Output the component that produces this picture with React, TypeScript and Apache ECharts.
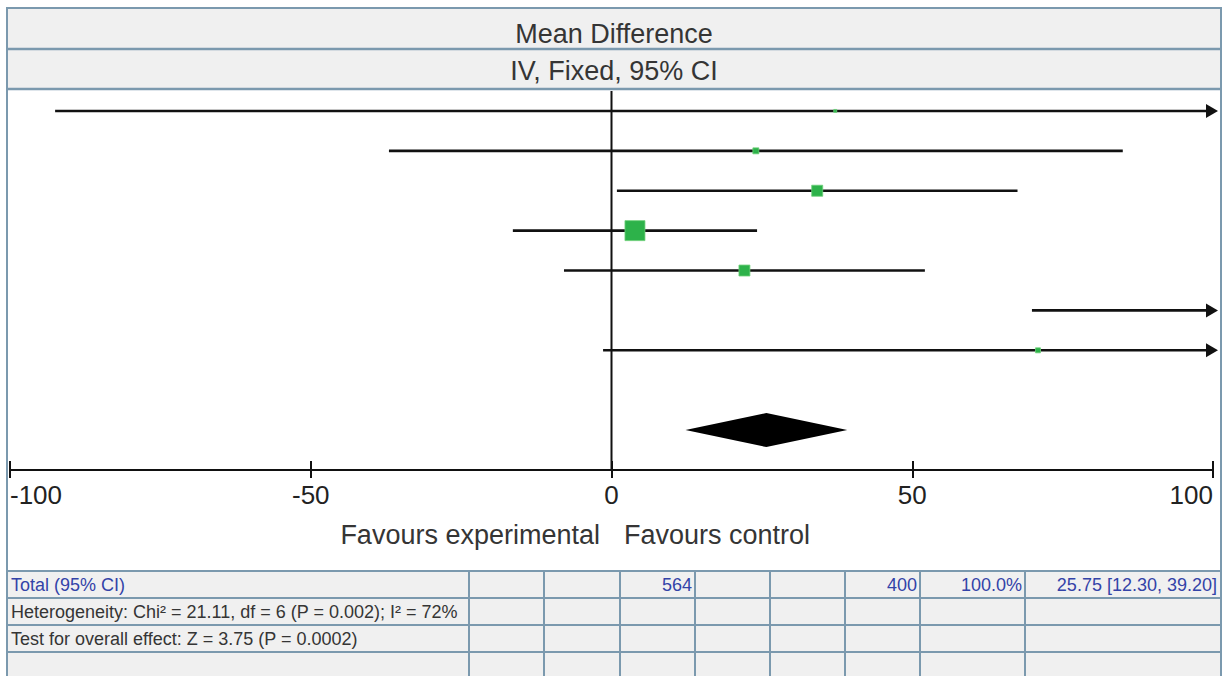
import React, { useEffect, useRef } from "react";
import * as echarts from "echarts";

// ---- data ----
const studyRows = [1, 2, 3, 4, 5, 6, 7];
const meanDiff = [37.2, 24.0, 34.2, 3.9, 22.1, 140.0, 70.9];
const ciLower = [-92.5, -37.0, 0.9, -16.4, -7.9, 69.9, -1.4];
const ciUpper = [166.9, 85.0, 67.5, 24.2, 52.1, 210.1, 143.2];
const weights = [1.2, 5.0, 16.9, 55.6, 16.7, 1.1, 3.5];

const totalRow = 9;
const totalMean = 25.75;
const totalLower = 12.3;
const totalUpper = 39.2;
const totalExperimental = 564;
const totalControl = 400;
const totalWeight = 100.0;

const chi2 = 21.11;
const dfValue = 6;
const hetP = "0.002";
const i2 = 72;
const zValue = 3.75;
const overallP = "0.0002";

const xTicks = [-100, -50, 0, 50, 100];
const headerTitle = "Mean Difference";
const headerSub = "IV, Fixed, 95% CI";
const favoursLeft = "Favours experimental";
const favoursRight = "Favours control";

const X_MIN = xTicks[0];
const X_MAX = xTicks[xTicks.length - 1];
const FONT = "'Liberation Sans', Arial, sans-serif";
const GRID = "#7b99ae";
const BG = "#f0f0f0";
const BLUE = "#3343a8";
const DARK = "#353535";

export default function App() {
  const ref = useRef<HTMLDivElement>(null);

  useEffect(() => {
    if (!ref.current) return;
    const chart = echarts.init(ref.current, undefined, { renderer: "svg" });

    const ciData = studyRows.map((r, i) => [r, ciLower[i], ciUpper[i]]);
    const markerData = studyRows.map((r, i) => [r, meanDiff[i], weights[i]]);
    const maxW = Math.max(...weights);

    const colLines = [469, 544, 620, 695, 770, 845, 920, 1025];
    const rowLines = [571, 598, 625, 652];

    const bigText = (text: string, x: number, y: number, align: string) => ({
      type: "text", z: 70,
      style: { text, x, y, fill: DARK, font: `27px ${FONT}`, align, verticalAlign: "middle", textAlign: align, textVerticalAlign: "middle" },
    });

    const graphic: any[] = [
      { type: "rect", z: -5, shape: { x: 7, y: 8, width: 1214, height: 81 }, style: { fill: BG } },
      { type: "rect", z: -5, shape: { x: 7, y: 571, width: 1214, height: 110 }, style: { fill: BG } },
      { type: "line", z: 50, shape: { x1: 7, y1: 49, x2: 1221, y2: 49 }, style: { stroke: GRID, lineWidth: 2.5 } },
      { type: "line", z: 50, shape: { x1: 7, y1: 89, x2: 1221, y2: 89 }, style: { stroke: GRID, lineWidth: 2.5 } },
      { type: "rect", z: 60, shape: { x: 7, y: 8, width: 1214, height: 700 }, style: { fill: "none", stroke: GRID, lineWidth: 2 } },
      ...rowLines.map((y) => ({ type: "line", z: 50, shape: { x1: 7, y1: y, x2: 1221, y2: y }, style: { stroke: GRID, lineWidth: 2 } })),
      ...colLines.map((x) => ({ type: "line", z: 50, shape: { x1: x, y1: 571, x2: x, y2: 676 }, style: { stroke: GRID, lineWidth: 2 } })),
      bigText(headerTitle, 614, 34, "center"),
      bigText(headerSub, 614, 71, "center"),
      bigText(favoursLeft, 600, 535, "right"),
      bigText(favoursRight, 624, 535, "left"),
    ];

    const cell = (text: string, x: number, y: number, align: string, color: string) => ({
      type: "text", z: 70,
      style: { text, x, y, fill: color, font: `18px ${FONT}`, align, verticalAlign: "middle", textAlign: align, textVerticalAlign: "middle" },
    });
    graphic.push(
      cell("Total (95% CI)", 11, 585, "left", BLUE),
      cell(String(totalExperimental), 692, 585, "right", BLUE),
      cell(String(totalControl), 917, 585, "right", BLUE),
      cell(`${totalWeight.toFixed(1)}%`, 1022, 585, "right", BLUE),
      cell(`${totalMean.toFixed(2)} [${totalLower.toFixed(2)}, ${totalUpper.toFixed(2)}]`, 1217, 585, "right", BLUE),
      cell(`Heterogeneity: Chi² = ${chi2.toFixed(2)}, df = ${dfValue} (P = ${hetP}); I² = ${i2}%`, 11, 612, "left", DARK),
      cell(`Test for overall effect: Z = ${zValue.toFixed(2)} (P = ${overallP})`, 11, 639, "left", DARK)
    );

    const option: any = {
      animation: false,
      backgroundColor: "#ffffff",
      grid: { left: 10, right: 17, top: 91, bottom: 206, containLabel: false },
      xAxis: [
        {
          type: "value", min: X_MIN, max: X_MAX, interval: 50, position: "bottom",
          axisLine: { show: true, lineStyle: { color: "#111", width: 2 } },
          axisTick: { show: true, inside: true, length: 9, lineStyle: { color: "#111", width: 2 } },
          axisLabel: {
            show: true, fontSize: 26, fontFamily: FONT, color: "#222", margin: 12,
            alignMinLabel: "left", alignMaxLabel: "right",
          },
          splitLine: { show: false },
        },
        {
          type: "value", min: X_MIN, max: X_MAX, interval: 50, position: "bottom",
          axisLine: { show: false },
          axisTick: { show: true, inside: false, length: 8, lineStyle: { color: "#111", width: 2 } },
          axisLabel: { show: false },
          splitLine: { show: false },
        },
      ],
      yAxis: { type: "value", min: 0.5, max: 10, inverse: true, show: false },
      graphic,
      series: [
        {
          type: "line", xAxisIndex: 0, silent: true, symbol: "none",
          data: [[0, 0.5], [0, 10]],
          lineStyle: { color: "#111", width: 2 },
          z: 3,
        },
        {
          type: "custom", xAxisIndex: 0, clip: false, silent: true, z: 4,
          encode: { x: [1, 2], y: 0 },
          data: ciData,
          renderItem: (params: any, api: any) => {
            const row = api.value(0);
            const lo = api.value(1);
            const hi = api.value(2);
            const p1 = api.coord([Math.max(lo, X_MIN), row]);
            const p2 = api.coord([Math.min(hi, X_MAX), row]);
            const arrowR = hi > X_MAX;
            const arrowL = lo < X_MIN;
            const children: any[] = [
              {
                type: "line",
                shape: { x1: arrowL ? p1[0] + 4 : p1[0], y1: p1[1], x2: arrowR ? p2[0] - 4 : p2[0], y2: p2[1] },
                style: { stroke: "#111", lineWidth: 2.6 },
              },
            ];
            if (arrowR) {
              children.push({
                type: "polygon",
                shape: { points: [[p2[0] - 7, p2[1] - 7], [p2[0] + 5, p2[1]], [p2[0] - 7, p2[1] + 7]] },
                style: { fill: "#111" },
              });
            }
            if (arrowL) {
              children.push({
                type: "polygon",
                shape: { points: [[p1[0] + 7, p1[1] - 7], [p1[0] - 5, p1[1]], [p1[0] + 7, p1[1] + 7]] },
                style: { fill: "#111" },
              });
            }
            return { type: "group", children };
          },
        },
        {
          type: "custom", xAxisIndex: 0, clip: true, silent: true, z: 5,
          encode: { x: 1, y: 0 },
          data: markerData,
          renderItem: (params: any, api: any) => {
            const row = api.value(0);
            const m = api.value(1);
            const w = api.value(2);
            if (m > X_MAX || m < X_MIN) return { type: "group", children: [] };
            const c = api.coord([m, row]);
            const s = Math.max(3, 20 * Math.sqrt(w / maxW));
            return {
              type: "rect",
              shape: { x: c[0] - s / 2, y: c[1] - s / 2, width: s, height: s },
              style: { fill: "#2db24a", stroke: "#6fd07a", lineWidth: 0.8 },
            };
          },
        },
        {
          type: "custom", xAxisIndex: 0, clip: false, silent: true, z: 5,
          encode: { x: [1, 2, 3], y: 0 },
          data: [[totalRow, totalLower, totalMean, totalUpper]],
          renderItem: (params: any, api: any) => {
            const row = api.value(0);
            const a = api.coord([api.value(1), row]);
            const b = api.coord([api.value(2), row]);
            const c = api.coord([api.value(3), row]);
            const h = 17;
            return {
              type: "polygon",
              shape: { points: [[a[0], a[1]], [b[0], b[1] - h], [c[0], c[1]], [b[0], b[1] + h]] },
              style: { fill: "#000" },
            };
          },
        },
      ],
    };

    chart.setOption(option);
    return () => chart.dispose();
  }, []);

  return (
    <div
      ref={ref}
      style={{ position: "fixed", left: 0, top: 0, width: 1230, height: 676 }}
    />
  );
}
